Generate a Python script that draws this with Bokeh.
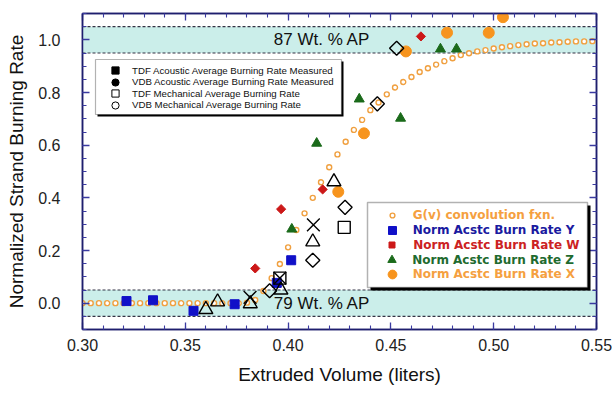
import math
from bokeh.plotting import figure
from bokeh.models import (Range1d, LinearAxis, FixedTicker, NumeralTickFormatter,
                          BoxAnnotation, Span, Label, Legend, LegendItem, CustomJSTickFormatter)
from bokeh.embed import file_html
from bokeh.resources import INLINE

# ---------------- data ----------------
x_tick_values = [0.30, 0.35, 0.40, 0.45, 0.50, 0.55]
y_tick_values = [0.0, 0.2, 0.4, 0.6, 0.8, 1.0]
x_label = "Extruded Volume (liters)"
y_label = "Normalized Strand Burning Rate"

band_labels = ["87 Wt. % AP", "79 Wt. % AP"]
band_centers = [1.0, 0.0]
band_half = 0.05
band_label_x = 0.4165

# G(v) convolution function
gv_x = [0.300, 0.304, 0.308, 0.312, 0.316, 0.320, 0.324, 0.328, 0.332, 0.336,
        0.340, 0.344, 0.348, 0.352, 0.356, 0.360, 0.364, 0.368, 0.372, 0.376,
        0.380, 0.384, 0.388, 0.392, 0.396, 0.400, 0.404, 0.408, 0.412, 0.416,
        0.420, 0.424, 0.428, 0.432, 0.436, 0.440, 0.444, 0.448, 0.452, 0.456,
        0.460, 0.464, 0.468, 0.472, 0.476, 0.480, 0.484, 0.488, 0.492, 0.496,
        0.500, 0.504, 0.508, 0.512, 0.516, 0.520, 0.524, 0.528, 0.532, 0.536,
        0.540, 0.544, 0.548]
gv_y = [0.0, 0.0, 0.0, 0.0, 0.0, 0.0, 0.0, 0.0, 0.0, 0.0,
        0.0, 0.0, 0.0, 0.0, 0.0, 0.0, 0.0, 0.0, 0.0, 0.0,
        0.002, 0.012, 0.046, 0.095, 0.149, 0.212, 0.278, 0.341, 0.400, 0.459,
        0.516, 0.565, 0.613, 0.658, 0.696, 0.733, 0.762, 0.793, 0.819, 0.840,
        0.859, 0.878, 0.892, 0.906, 0.919, 0.930, 0.942, 0.949, 0.956, 0.961,
        0.967, 0.972, 0.976, 0.980, 0.983, 0.986, 0.987, 0.990, 0.991, 0.993,
        0.994, 0.994, 0.995]

# Norm Acstc Burn Rate Y (blue squares)
rate_y_x = [0.3214, 0.3343, 0.3540, 0.3740, 0.3945, 0.4015]
rate_y_y = [0.008, 0.011, -0.029, -0.004, 0.077, 0.163]
# Norm Acstc Burn Rate W (red diamonds)
rate_w_x = [0.3840, 0.3966, 0.4168, 0.4646]
rate_w_y = [0.132, 0.357, 0.432, 1.013]
# Norm Acstc Burn Rate Z (green triangles)
rate_z_x = [0.4018, 0.4139, 0.4346, 0.4547, 0.4741, 0.4819]
rate_z_y = [0.281, 0.607, 0.775, 0.702, 0.965, 0.965]
# Norm Acstc Burn Rate X (orange circles)
rate_x_x = [0.4244, 0.4369, 0.4573, 0.4773, 0.4976, 0.5045]
rate_x_y = [0.423, 0.645, 0.956, 1.027, 1.027, 1.086]

# black open markers
cross_x = [0.3815, 0.3960, 0.4123]
cross_y = [0.022, 0.095, 0.297]
tri_x = [0.3600, 0.3657, 0.3816, 0.3965, 0.4120, 0.4223]
tri_y = [-0.024, 0.005, -0.002, 0.050, 0.233, 0.461]
dia_x = [0.3910, 0.4120, 0.4277, 0.4434, 0.4528]
dia_y = [0.047, 0.163, 0.364, 0.757, 0.968]
sq_x = [0.3960, 0.4273]
sq_y = [0.095, 0.288]

legend1_labels = ["TDF Acoustic Average Burning Rate Measured",
                  "VDB Acoustic Average Burning Rate Measured",
                  "TDF Mechanical Average Burning Rate",
                  "VDB Mechanical Average Burning Rate"]
legend2_labels = ["G(v) convolution fxn.", "Norm Acstc Burn Rate Y",
                  "Norm Acstc Burn Rate W", "Norm Acstc Burn Rate Z",
                  "Norm Acstc Burn Rate X"]

# ---------------- styles ----------------
FONT = "Liberation Sans"
LEG2_FONT = "DejaVu Sans"
AXIS_COL = "#1e1e6e"
TICK_COL = "#3a3aa0"
BAND_COL = "#cbeeea"
C_GV = "#f0a040"
C_BLUE = "#1010c8"
C_RED = "#cc1818"
C_GREEN = "#1a6a1a"
C_ORANGE = "#f7941d"
T_BLUE = "#1a1aa0"
T_RED = "#cc2222"
T_GREEN = "#1f6b2f"
T_ORANGE = "#f5a040"

X0, X1 = 0.30, 0.55
Y0, Y1 = -0.10, 1.10

W, H = 612, 392
BL, BR, BT, BB = 82, 16, 13, 63
# page-pixel geometry of the frame (for placing legends)
FL, FR, FT, FB = float(BL), float(W - BR), float(BT), float(H - BB)


def px2x(px):
    return X0 + (px - FL) / (FR - FL) * (X1 - X0)


def px2y(py):
    return Y0 + (FB - py) / (FB - FT) * (Y1 - Y0)


p = figure(width=W, height=H, output_backend="svg", toolbar_location=None,
           x_range=Range1d(X0, X1), y_range=Range1d(Y0, Y1),
           min_border_left=BL, min_border_right=BR, min_border_top=BT, min_border_bottom=BB,
           background_fill_color="white", border_fill_color="white")
p.grid.visible = False
p.outline_line_color = AXIS_COL
p.outline_line_width = 1.5

x_minor = [round(X0 + i * 0.01, 3) for i in range(26)]
y_minor = [round(-0.10 + i * 0.05, 3) for i in range(25)]
xt = FixedTicker(ticks=x_tick_values, minor_ticks=x_minor)
yt = FixedTicker(ticks=y_tick_values, minor_ticks=y_minor)


def style_axis(ax, show_labels):
    ax.axis_line_color = AXIS_COL
    ax.axis_line_width = 1.5
    ax.major_tick_line_color = TICK_COL
    ax.minor_tick_line_color = TICK_COL
    ax.major_tick_line_width = 1.3
    ax.minor_tick_line_width = 1.1
    ax.major_tick_in = 7
    ax.major_tick_out = 0
    ax.minor_tick_in = 4
    ax.minor_tick_out = 0
    if not show_labels:
        ax.formatter = CustomJSTickFormatter(code="return ''")
        ax.major_label_text_font_size = "0px"
        ax.major_label_standoff = 0


xa = p.xaxis[0]
xa.ticker = xt
xa.formatter = NumeralTickFormatter(format="0.00")
style_axis(xa, True)
xa.major_label_text_font = FONT
xa.major_label_text_font_size = "16px"
xa.major_label_text_color = "#222222"
xa.major_label_standoff = 9
xa.axis_label = x_label
xa.axis_label_text_font = FONT
xa.axis_label_text_font_size = "19px"
xa.axis_label_text_font_style = "normal"
xa.axis_label_text_color = "#111111"
xa.axis_label_standoff = 10

ya = p.yaxis[0]
ya.ticker = yt
ya.formatter = NumeralTickFormatter(format="0.0")
style_axis(ya, True)
ya.major_label_text_font = FONT
ya.major_label_text_font_size = "16px"
ya.major_label_text_color = "#222222"
ya.major_label_standoff = 22
ya.axis_label = y_label
ya.axis_label_text_font = FONT
ya.axis_label_text_font_size = "19px"
ya.axis_label_text_font_style = "normal"
ya.axis_label_text_color = "#111111"
ya.axis_label_standoff = 8

top_ax = LinearAxis(ticker=xt)
style_axis(top_ax, False)
p.add_layout(top_ax, "above")
right_ax = LinearAxis(ticker=yt)
style_axis(right_ax, False)
p.add_layout(right_ax, "right")

# bands
for c, txt in zip(band_centers, band_labels):
    p.add_layout(BoxAnnotation(bottom=c - band_half, top=c + band_half,
                               fill_color=BAND_COL, fill_alpha=1.0, line_alpha=0,
                               level="underlay"))
    for edge in (c - band_half, c + band_half):
        p.add_layout(Span(location=edge, dimension="width", line_color="#333344",
                          line_width=1.1, line_dash="3 2", level="underlay"))
    p.add_layout(Label(x=band_label_x, y=c, text=txt, text_align="center",
                       text_baseline="middle", text_font=FONT, text_font_size="17px",
                       text_color="#111111"))

# data glyphs
r_gv = p.scatter(gv_x, gv_y, marker="circle", size=5, line_color=C_GV, line_width=1.4,
                 fill_color="white")
r_y = p.scatter(rate_y_x, rate_y_y, marker="square", size=9, color=C_BLUE)
r_w = p.scatter(rate_w_x, rate_w_y, marker="square", size=6.5, angle=math.pi / 4, color=C_RED)
r_z = p.scatter(rate_z_x, rate_z_y, marker="triangle", size=10, color=C_GREEN)
r_x = p.scatter(rate_x_x, rate_x_y, marker="circle", size=11, color=C_ORANGE)

p.scatter(tri_x, tri_y, marker="triangle", size=14, line_color="black", line_width=1.4,
          fill_alpha=0)
p.scatter(dia_x, dia_y, marker="square", size=10, angle=math.pi / 4, line_color="black",
          line_width=1.4, fill_alpha=0)
p.scatter(sq_x, sq_y, marker="square", size=12, line_color="black", line_width=1.4,
          fill_alpha=0)
p.scatter(cross_x, cross_y, marker="x", size=18, line_color="black", line_width=1.4)

# legend-only renderers (black symbols); NaN point so nothing is drawn in the plot
NAN = [float("nan")]
l1_r = [
    p.scatter(NAN, NAN, marker="square", size=7, color="black"),
    p.scatter(NAN, NAN, marker="circle", size=7, color="black"),
    p.scatter(NAN, NAN, marker="square", size=7, line_color="black", fill_color="white", line_width=1),
    p.scatter(NAN, NAN, marker="circle", size=7, line_color="black", fill_color="white", line_width=1),
]


def add_box(left, right, top, bottom, shadow, lw):
    p.add_layout(BoxAnnotation(left=px2x(left + shadow), right=px2x(right + shadow),
                               top=px2y(top + shadow), bottom=px2y(bottom + shadow),
                               fill_color="black", fill_alpha=1, line_alpha=0))
    p.add_layout(BoxAnnotation(left=px2x(left), right=px2x(right),
                               top=px2y(top), bottom=px2y(bottom),
                               fill_color="white", fill_alpha=1, line_color="black",
                               line_width=lw))


def add_row(renderer, label, color, cx, cy, gpx, text_x, font, size, bold):
    g = int(round(gpx / 0.4))
    leg = Legend(items=[LegendItem(label=label, renderers=[renderer])],
                 location=(cx - g / 2 - FL, FB - (cy + g / 2)),
                 padding=0, margin=0, spacing=0, glyph_width=g, glyph_height=g,
                 label_height=g, label_standoff=int(round(text_x - cx - g / 2)),
                 background_fill_alpha=0, border_line_alpha=0,
                 label_text_font=font, label_text_font_size=size,
                 label_text_font_style="bold" if bold else "normal",
                 label_text_color=color)
    p.add_layout(leg, "center")


# legend 1 (black symbols)
add_box(95, 341, 59, 114, 2, 1.2)
l1_rows = [70, 81.5, 93, 104.5]
for r, lab, cy in zip(l1_r, legend1_labels, l1_rows):
    add_row(r, lab, "#111111", 115, cy, 7, 131.7, FONT, "9.7px", False)

# legend 2 (coloured)
add_box(367, 587, 202, 287, 3, 1.5)
l2_rows = [215.5, 230.2, 244.9, 259.6, 274.3]
l2_r = [r_gv, r_y, r_w, r_z, r_x]
l2_col = [T_ORANGE, T_BLUE, T_RED, T_GREEN, T_ORANGE]
l2_g = [5, 8, 6, 8.5, 9]
for r, lab, col, cy, gg in zip(l2_r, legend2_labels, l2_col, l2_rows, l2_g):
    add_row(r, lab, col, 391.7, cy, gg, 412.7, LEG2_FONT, "12px", True)

open("out.html", "w").write(file_html(p, INLINE))
